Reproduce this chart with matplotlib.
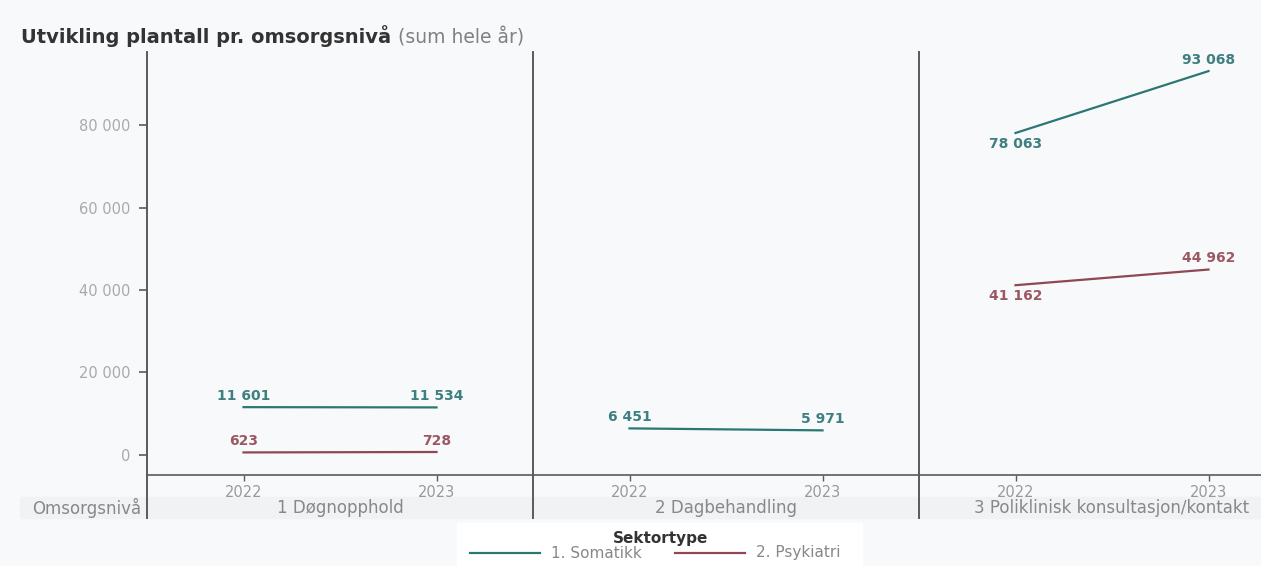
import matplotlib.pyplot as plt
from matplotlib.lines import Line2D
from matplotlib.patches import Rectangle

plt.rcParams["font.family"] = ["DejaVu Sans"]

years = ["2022", "2023"]
levels = ["1 Døgnopphold", "2 Dagbehandling", "3 Poliklinisk konsultasjon/kontakt"]
somatikk = [[11601, 11534], [6451, 5971], [78063, 93068]]
psykiatri = [[623, 728], None, [41162, 44962]]
yticks = [0, 20000, 40000, 60000, 80000]

TEAL = "#2b7773"
TEAL_TXT = "#3f7f80"
RED = "#8f4753"
RED_TXT = "#9c5862"
GRAY = "#999999"
DARK = "#5a5a5a"
BG = "#f8f9fa"

W, H = 1261, 566
fig = plt.figure(figsize=(W / 100, H / 100), dpi=100, facecolor=BG)


def fx(px):
    return px / W


def fy(py):
    return 1 - py / H


def fmt(v):
    return f"{v:,}".replace(",", " ")


def label_line(ax, vals, line_color, text_color):
    ax.plot([0, 1], vals, color=line_color, lw=1.6)
    rising = vals[1] - vals[0] > 0.04 * vals[0] and vals[0] > 20000
    for x, v in zip([0, 1], vals):
        dy = -8 if (rising and x == 0) else 8
        ax.annotate(fmt(v), (x, v), xytext=(0, dy), textcoords="offset points",
                    ha="center", va="center", fontsize=10, fontweight="bold", color=text_color)


# soft band behind the level names
fig.patches.append(Rectangle((fx(20), fy(518)), 1, (518 - 497) / H,
                             transform=fig.transFigure, color="#f1f2f4", zorder=-1))

top, bottom, panel_w = 52, 475, 386
lefts = [147, 533, 919]
ylim = (-4850, 97700)
ext = -(518 - bottom) / (bottom - top)
cat_y = -(508 - bottom) / (bottom - top)

for i, left in enumerate(lefts):
    ax = fig.add_axes([fx(left), fy(bottom), panel_w / W, (bottom - top) / H])
    ax.set_facecolor("none")
    ax.set_xlim(-0.5, 1.5)
    ax.set_ylim(*ylim)
    for s in ["top", "right", "left"]:
        ax.spines[s].set_visible(False)
    ax.spines["bottom"].set_color(DARK)
    ax.spines["bottom"].set_linewidth(1.2)
    ax.plot([0, 0], [1, ext], transform=ax.transAxes, color=DARK, lw=1.4, clip_on=False)

    ax.set_xticks([0, 1])
    ax.set_xticklabels(years, color=GRAY, fontsize=10.5)
    ax.tick_params(axis="x", length=4, width=1, color=DARK, pad=3)
    ax.text(0.5, cat_y, levels[i], transform=ax.transAxes, ha="center", va="center",
            fontsize=12, color="#888888")

    if i == 0:
        ax.set_yticks(yticks)
        ax.set_yticklabels([fmt(v) for v in yticks], color="#aaaaaa", fontsize=10.5)
        ax.tick_params(axis="y", length=6, width=1.2, color=DARK, pad=6)
        ax.text(-6 / panel_w, cat_y, "Omsorgsnivå", transform=ax.transAxes, ha="right",
                va="center", fontsize=12, color="#888888")
    else:
        ax.set_yticks([])

    label_line(ax, somatikk[i], TEAL, TEAL_TXT)
    if psykiatri[i] is not None:
        label_line(ax, psykiatri[i], RED, RED_TXT)

# title: bold part followed by a lighter note
t1 = fig.text(fx(21), fy(43), "Utvikling plantall pr. omsorgsnivå", fontsize=14,
              fontweight="bold", color="#333333", va="baseline", ha="left")
fig.canvas.draw()
bb = t1.get_window_extent()
fig.text((bb.x1 + 7) / W, fy(43), "(sum hele år)", fontsize=13.5, color="#808080",
         va="baseline", ha="left")

# legend box
fig.patches.append(Rectangle((fx(457), 0), (862 - 457) / W, (566 - 523) / H,
                             transform=fig.transFigure, color="white", zorder=1))
fig.text(fx(661), fy(538), "Sektortype", fontsize=11, fontweight="bold", color="#333333",
         ha="center", va="center", zorder=2)
fig.lines.append(Line2D([fx(470), fx(540)], [fy(553), fy(553)], transform=fig.transFigure,
                        color=TEAL, lw=1.6, zorder=2))
fig.text(fx(551), fy(553), "1. Somatikk", fontsize=11, color="#888888", ha="left",
         va="center", zorder=2)
fig.lines.append(Line2D([fx(675), fx(745)], [fy(553), fy(553)], transform=fig.transFigure,
                        color=RED, lw=1.6, zorder=2))
fig.text(fx(756), fy(553), "2. Psykiatri", fontsize=11, color="#888888", ha="left",
         va="center", zorder=2)

fig.savefig("out.png", dpi=100, facecolor=BG)
